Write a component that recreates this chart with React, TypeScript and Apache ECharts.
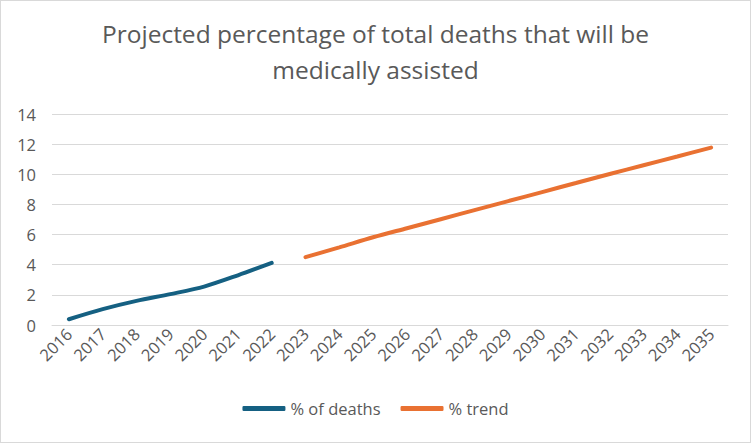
import React, { useEffect, useRef } from "react";
import * as echarts from "echarts";

const years = ["2016","2017","2018","2019","2020","2021","2022","2023","2024","2025","2026","2027","2028","2029","2030","2031","2032","2033","2034","2035"];
const pctDeaths = [0.38, 1.05, 1.6, 2.05, 2.55, 3.3, 4.12];
const pctTrend = [4.5, 5.15, 5.82, 6.42, 7.02, 7.62, 8.22, 8.82, 9.42, 10.02, 10.6, 11.18, 11.77];
const yTicks = [0, 2, 4, 6, 8, 10, 12, 14];

export default function App() {
  const ref = useRef<HTMLDivElement>(null);
  useEffect(() => {
    const chart = echarts.init(ref.current!, undefined, { renderer: "svg" });
    const deaths = years.map((_, i) => (i < pctDeaths.length ? pctDeaths[i] : null));
    const trend = years.map((_, i) => {
      const j = i - pctDeaths.length;
      return j >= 0 && j < pctTrend.length ? pctTrend[j] : null;
    });
    const font = "Open Sans, sans-serif";
    chart.setOption({
      animation: false,
      backgroundColor: "#fff",
      title: {
        text: "Projected percentage of total deaths that will be\nmedically assisted",
        left: "center",
        top: 9,
        textStyle: { color: "#595959", fontSize: 24.5, fontWeight: "normal", fontFamily: font, lineHeight: 36 },
      },
      grid: { left: 51, right: 22, top: 113, bottom: 117, containLabel: false },
      legend: {
        bottom: 20,
        left: "center",
        itemWidth: 43,
        itemHeight: 5,
        itemGap: 20,
        icon: "roundRect",
        textStyle: { color: "#595959", fontSize: 16.5, fontFamily: font },
        data: ["% of deaths", "% trend"],
      },
      xAxis: {
        type: "category",
        data: years,
        boundaryGap: true,
        axisLine: { lineStyle: { color: "#d9d9d9" } },
        axisTick: { show: false },
        axisLabel: { rotate: 45, color: "#595959", fontSize: 16.5, fontFamily: font, interval: 0, margin: 6 },
      },
      yAxis: {
        type: "value",
        min: yTicks[0],
        max: yTicks[yTicks.length - 1],
        interval: 2,
        axisLine: { show: false },
        axisTick: { show: false },
        axisLabel: { color: "#595959", fontSize: 16.5, fontFamily: font, margin: 16 },
        splitLine: { lineStyle: { color: "#d9d9d9", width: 1 } },
      },
      series: [
        {
          name: "% of deaths",
          type: "line",
          data: deaths,
          smooth: 0.3,
          showSymbol: false,
          symbol: "none",
          lineStyle: { color: "#156082", width: 4, cap: "round" },
          itemStyle: { color: "#156082" },
        },
        {
          name: "% trend",
          type: "line",
          data: trend,
          smooth: 0.3,
          showSymbol: false,
          symbol: "none",
          lineStyle: { color: "#E97132", width: 4, cap: "round" },
          itemStyle: { color: "#E97132" },
        },
      ],
    });
    return () => chart.dispose();
  }, []);
  return (
    <div
      style={{ position: "absolute", left: 0, top: 0, width: 751, height: 443, boxSizing: "border-box", border: "1px solid #d9d9d9", background: "#fff" }}
    >
      <div ref={ref} style={{ width: 749, height: 441 }} />
    </div>
  );
}
